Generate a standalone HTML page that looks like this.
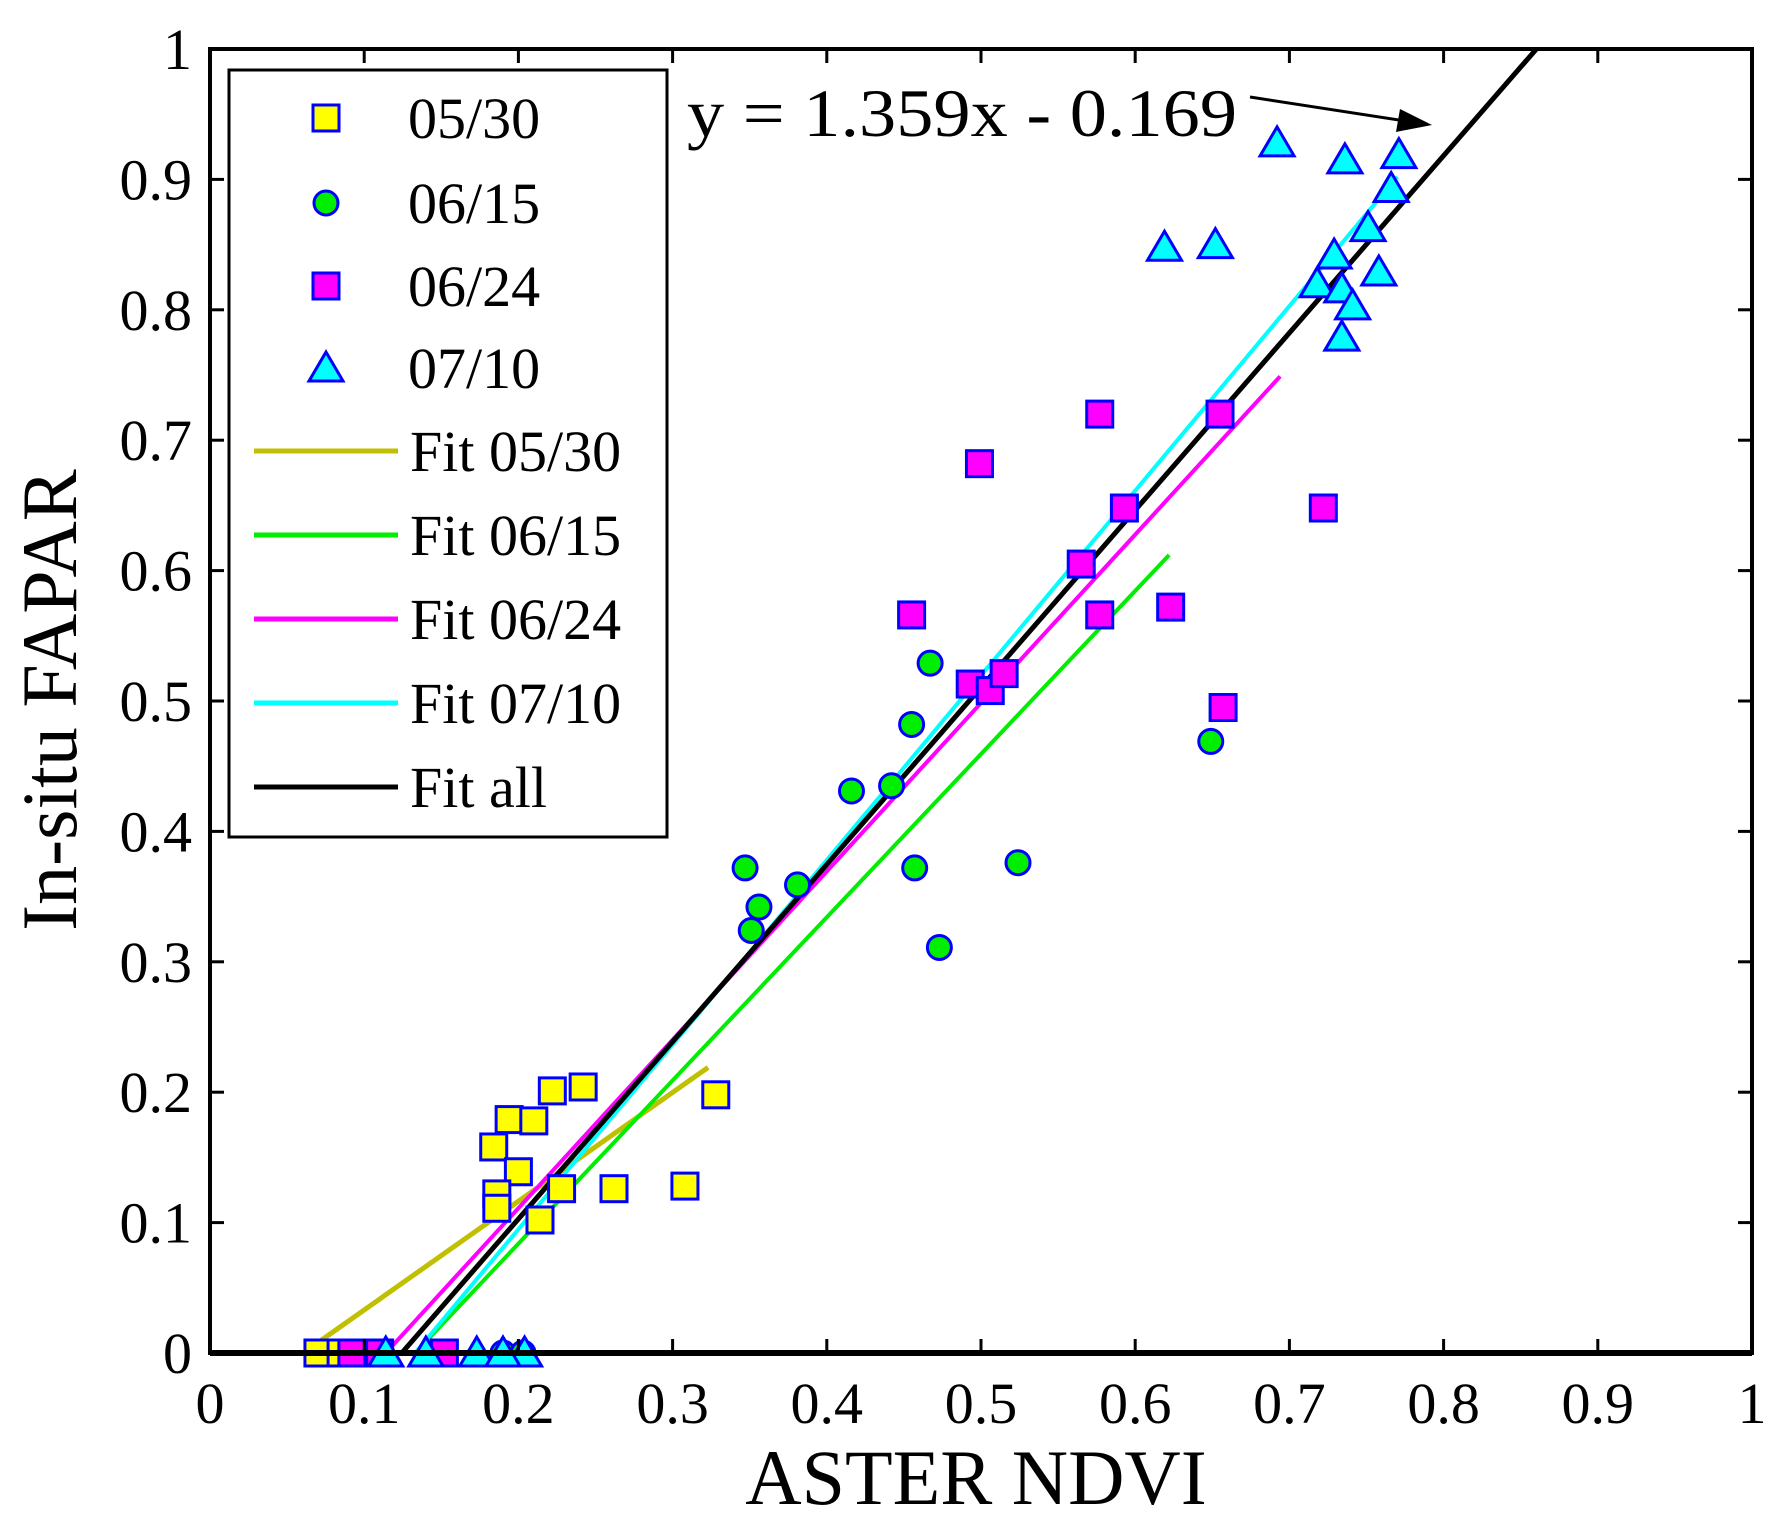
<!DOCTYPE html>
<html><head><meta charset="utf-8"><style>
body{margin:0;background:#fff}
svg{display:block}
text{font-family:"Liberation Serif",serif;fill:#000}
</style></head><body>
<svg id="chart" width="1771" height="1527" viewBox="0 0 1771 1527" xmlns="http://www.w3.org/2000/svg">
<rect width="1771" height="1527" fill="#fff"/>
<g id="grid"></g>
<g id="fits"></g>
<g id="marks"></g>
<g id="axes"></g>
<g id="legend"></g>
</svg>
<script>
const xTicks=[0,0.1,0.2,0.3,0.4,0.5,0.6,0.7,0.8,0.9,1];
const yTicks=[0,0.1,0.2,0.3,0.4,0.5,0.6,0.7,0.8,0.9,1];
const d0530x=[0.070,0.085,0.184,0.194,0.210,0.222,0.242,0.200,0.186,0.186,0.214,0.228,0.262,0.308,0.328];
const d0530y=[0,0,0.158,0.179,0.178,0.201,0.204,0.139,0.122,0.111,0.102,0.126,0.126,0.128,0.198];
const d0615x=[0.347,0.356,0.351,0.381,0.416,0.442,0.455,0.467,0.457,0.473,0.524,0.649,0.190,0.203];
const d0615y=[0.372,0.342,0.324,0.359,0.431,0.435,0.482,0.529,0.372,0.311,0.376,0.469,0,0];
const d0624x=[0.092,0.110,0.152,0.455,0.499,0.577,0.593,0.565,0.577,0.493,0.506,0.515,0.623,0.657,0.722,0.655];
const d0624y=[0,0,0,0.566,0.682,0.720,0.648,0.605,0.566,0.513,0.508,0.521,0.572,0.495,0.648,0.720];
const d0710x=[0.692,0.736,0.771,0.619,0.652,0.751,0.729,0.718,0.734,0.758,0.741,0.734,0.766,0.114,0.140,0.173,0.204,0.190];
const d0710y=[0.928,0.915,0.919,0.848,0.850,0.863,0.842,0.820,0.816,0.829,0.803,0.779,0.893,0,0,0,0,0];
const fit0530=[[0.070,0.008],[0.323,0.219]];
const fit0615=[[0.133,0],[0.622,0.612]];
const fit0624=[[0.114,0],[0.694,0.749]];
const fit0710=[[0.133,0],[0.770,0.902]];
const fitAllSlope=1.359, fitAllIntercept=-0.169;

const X0=210,X1=1752,Y0=1353,Y1=49;
const sx=v=>X0+v*(X1-X0), sy=v=>Y0-v*(Y0-Y1);
const NS="http://www.w3.org/2000/svg";
function mk(tag,attrs,parent){const e=document.createElementNS(NS,tag);for(const k in attrs)e.setAttribute(k,attrs[k]);parent.appendChild(e);return e;}
const axes=document.getElementById('axes'),marks=document.getElementById('marks'),fits=document.getElementById('fits'),leg=document.getElementById('legend');

function sq(x,y,fill,p,name){const e=mk('rect',{x:x-13,y:y-13,width:26,height:26,fill:fill,stroke:'#0000ff','stroke-width':3},p);return e;}
function circ(x,y,p,name){const e=mk('circle',{cx:x,cy:y,r:12,fill:'#00ee00',stroke:'#0000ff','stroke-width':3},p);return e;}
function tri(x,y,p,name){const e=mk('polygon',{points:`${x},${y-16} ${x+17},${y+13} ${x-17},${y+13}`,fill:'#00ffff',stroke:'#0000ff','stroke-width':3},p);return e;}
function line(a,b,color,w,p,name){const e=mk('line',{x1:sx(a[0]),y1:sy(a[1]),x2:sx(b[0]),y2:sy(b[1]),stroke:color,'stroke-width':w},p);return e;}

line(fit0530[0],fit0530[1],'#c0c000',5,fits,'fit-0530-line');
line(fit0615[0],fit0615[1],'#00ee00',4,fits,'fit-0615-line');
line(fit0624[0],fit0624[1],'#ff00ff',4,fits,'fit-0624-line');
line(fit0710[0],fit0710[1],'#00ffff',4,fits,'fit-0710-line');
const xa=-fitAllIntercept/fitAllSlope, xb=(1-fitAllIntercept)/fitAllSlope;
line([xa,0],[xb,1],'#000',5,fits,'fit-all-line');

d0530x.forEach((v,i)=>sq(sx(v),sy(d0530y[i]),'#ffff00',marks,'point-0530'));
d0615x.forEach((v,i)=>circ(sx(v),sy(d0615y[i]),marks,'point-0615'));
d0624x.forEach((v,i)=>sq(sx(v),sy(d0624y[i]),'#ff00ff',marks,'point-0624'));
d0710x.forEach((v,i)=>tri(sx(v),sy(d0710y[i]),marks,'point-0710'));

let fr=mk('rect',{x:X0,y:Y1,width:X1-X0,height:Y0-Y1,fill:'none',stroke:'#000','stroke-width':4},axes);


mk('line',{x1:X0,y1:Y0,x2:X1,y2:Y0,stroke:'#000','stroke-width':6},axes);
xTicks.forEach(t=>{
  mk('line',{x1:sx(t),y1:Y0,x2:sx(t),y2:Y0-14,stroke:'#000','stroke-width':3},axes);
  mk('line',{x1:sx(t),y1:Y1,x2:sx(t),y2:Y1+14,stroke:'#000','stroke-width':3},axes);
  const e=mk('text',{x:sx(t),y:Y0+70,'font-size':58,'text-anchor':'middle'},axes);e.textContent=String(t);
  
  
});
yTicks.forEach(t=>{
  mk('line',{x1:X0,y1:sy(t),x2:X0+14,y2:sy(t),stroke:'#000','stroke-width':3},axes);
  mk('line',{x1:X1,y1:sy(t),x2:X1-14,y2:sy(t),stroke:'#000','stroke-width':3},axes);
  const e=mk('text',{x:192,y:sy(t)+20,'font-size':58,'text-anchor':'end'},axes);e.textContent=String(t);
  
  
});
let t=mk('text',{x:976,y:1504,'font-size':78,'text-anchor':'middle'},axes);t.textContent='ASTER NDVI';


t=mk('text',{x:0,y:0,'font-size':78,'text-anchor':'middle',transform:'translate(76,700) rotate(-90)'},axes);t.textContent='In-situ FAPAR';


t=mk('text',{x:687,y:136,'font-size':68,textLength:550,lengthAdjust:'spacingAndGlyphs'},axes);t.textContent='y = 1.359x - 0.169';


mk('line',{x1:1250,y1:97,x2:1405,y2:121,stroke:'#000','stroke-width':3},axes);
let ar=mk('polygon',{points:'1432,125 1400,109 1396,132',fill:'#000'},axes);



let lb=mk('rect',{x:229,y:70,width:438,height:767,fill:'#fff',stroke:'#000','stroke-width':3},leg);


const labels=['05/30','06/15','06/24','07/10','Fit 05/30','Fit 06/15','Fit 06/24','Fit 07/10','Fit all'];
const rowsY=[118,203,286,368,451,535,619,703,787];
labels.forEach((l,i)=>{
  const y=rowsY[i];
  if(i===0)sq(326,y,'#ffff00',leg,'legend-marker-0530');
  if(i===1)circ(326,y,leg,'legend-marker-0615');
  if(i===2)sq(326,y,'#ff00ff',leg,'legend-marker-0624');
  if(i===3)tri(326,y,leg,'legend-marker-0710');
  if(i>=4){const c=['#c0c000','#00ee00','#ff00ff','#00ffff','#000'][i-4];
    const e=mk('line',{x1:254,y1:y,x2:398,y2:y,stroke:c,'stroke-width':5},leg);
    
    }
  const e=mk('text',{x:i>=4?410:408,y:y+20,'font-size':58},leg);e.textContent=l;
  
  
});
</script>
</body></html>
